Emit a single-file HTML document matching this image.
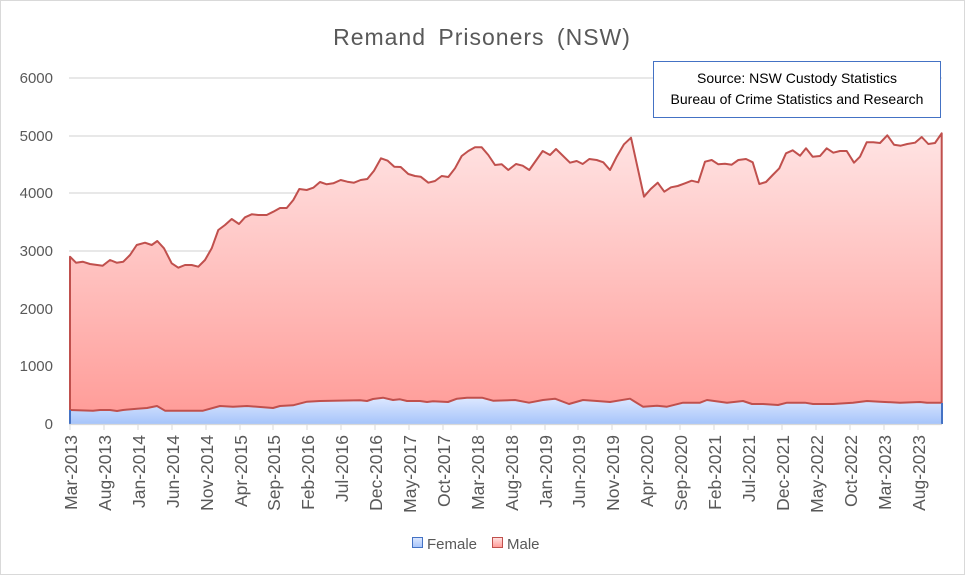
<!DOCTYPE html>
<html><head><meta charset="utf-8"><style>
html,body{margin:0;padding:0;background:#fff;}
svg{display:block;font-family:"Liberation Sans",Arial,sans-serif;}
</style></head><body>
<svg width="965" height="575" viewBox="0 0 965 575" xmlns="http://www.w3.org/2000/svg">
<defs>
<linearGradient id="gm" x1="0" y1="0" x2="0" y2="1" gradientUnits="objectBoundingBox">
<stop offset="0" stop-color="#ffe4e4"/><stop offset="1" stop-color="#ff9a96"/></linearGradient>
<linearGradient id="gf" x1="0" y1="0" x2="0" y2="1">
<stop offset="0" stop-color="#dde8ff"/><stop offset="1" stop-color="#a6c4fa"/></linearGradient>
</defs>
<rect x="0.5" y="0.5" width="964" height="574" fill="#fff" stroke="#d9d9d9"/>
<text x="482" y="45" text-anchor="middle" font-size="23" fill="#595959" word-spacing="5" letter-spacing="1">Remand Prisoners (NSW)</text>
<g stroke="#d9d9d9" stroke-width="1.3">
<line x1="69" y1="78" x2="942" y2="78"/><line x1="69" y1="136" x2="942" y2="136"/>
<line x1="69" y1="193" x2="942" y2="193"/><line x1="69" y1="251" x2="942" y2="251"/>
<line x1="69" y1="309" x2="942" y2="309"/><line x1="69" y1="366" x2="942" y2="366"/>
</g>
<g font-size="15" fill="#595959" text-anchor="end">
<text x="53" y="83">6000</text><text x="53" y="141">5000</text><text x="53" y="198">4000</text>
<text x="53" y="256">3000</text><text x="53" y="314">2000</text><text x="53" y="371">1000</text><text x="53" y="429">0</text>
</g>
<polygon fill="url(#gm)" points="70,424 70,256.7 76,262.7 82.7,261.7 90,264 102.7,265.7 110,260 116.7,262.7 123.3,261.7 130,255 136.7,245 145,242.7 151.7,245 157.3,241 164,248.3 171.7,263.3 178.3,267.7 185,265 191.7,265 198.3,266.7 205,260 211.7,248.3 218.3,230 225,225 231.7,219 239,224 245,217.3 251.7,214.3 258.3,215 266.7,215 273.3,211.7 280,208 286.7,208 293.3,200 299.3,189 306.7,190 313.3,187.7 320,182 326.7,184.3 333.3,183.3 340.7,180 347.3,181.7 354,182.7 360.7,180 367.3,179 374,170.7 381,158.3 387.7,160.7 394.3,166.7 400.7,167 408.3,174 415,176 420.7,176.7 428.3,182.7 435,181 441.7,176 448.3,177 455,168.3 461.7,156 468.3,151 475,147.3 481.7,147.3 488.3,155 495,165 501.7,164.3 508.3,170 516,164 522.7,165.7 529.3,170 542.7,151 550,155 556,149 570,162.7 576.7,161 582.7,164 589.3,159 596.7,160 603.3,162.3 610,170 616.7,156.7 624,144.3 631,137.7 644,196.7 650.7,189 657.7,182.7 664.3,191.7 671,187.3 677.7,186 685,183.3 691.7,180.7 698.3,182.3 705,161.7 711.7,160 718.3,164.3 725,163.7 731.7,164.7 738.3,160 746,159 752.7,162.3 759.3,184 766,182 772.7,175 779.3,168.3 786,153.3 792.7,150.3 800,155.7 806,148.3 812.7,156.7 820,156 826.7,148.3 833.3,152.7 840,151 846.7,151 854,162.7 860,156.7 866.7,142.3 873.3,142.3 880,143 887.3,135.3 894,144.7 900.7,145.7 907.3,144 915,142.7 921.7,137 928.3,144 935,143 941.7,133.3 941.7,424"/>
<polyline fill="none" stroke="#c0504d" stroke-width="2" stroke-linejoin="round" points="70,424 70,256.7 76,262.7 82.7,261.7 90,264 102.7,265.7 110,260 116.7,262.7 123.3,261.7 130,255 136.7,245 145,242.7 151.7,245 157.3,241 164,248.3 171.7,263.3 178.3,267.7 185,265 191.7,265 198.3,266.7 205,260 211.7,248.3 218.3,230 225,225 231.7,219 239,224 245,217.3 251.7,214.3 258.3,215 266.7,215 273.3,211.7 280,208 286.7,208 293.3,200 299.3,189 306.7,190 313.3,187.7 320,182 326.7,184.3 333.3,183.3 340.7,180 347.3,181.7 354,182.7 360.7,180 367.3,179 374,170.7 381,158.3 387.7,160.7 394.3,166.7 400.7,167 408.3,174 415,176 420.7,176.7 428.3,182.7 435,181 441.7,176 448.3,177 455,168.3 461.7,156 468.3,151 475,147.3 481.7,147.3 488.3,155 495,165 501.7,164.3 508.3,170 516,164 522.7,165.7 529.3,170 542.7,151 550,155 556,149 570,162.7 576.7,161 582.7,164 589.3,159 596.7,160 603.3,162.3 610,170 616.7,156.7 624,144.3 631,137.7 644,196.7 650.7,189 657.7,182.7 664.3,191.7 671,187.3 677.7,186 685,183.3 691.7,180.7 698.3,182.3 705,161.7 711.7,160 718.3,164.3 725,163.7 731.7,164.7 738.3,160 746,159 752.7,162.3 759.3,184 766,182 772.7,175 779.3,168.3 786,153.3 792.7,150.3 800,155.7 806,148.3 812.7,156.7 820,156 826.7,148.3 833.3,152.7 840,151 846.7,151 854,162.7 860,156.7 866.7,142.3 873.3,142.3 880,143 887.3,135.3 894,144.7 900.7,145.7 907.3,144 915,142.7 921.7,137 928.3,144 935,143 941.7,133.3 941.7,424"/>
<polygon fill="url(#gf)" points="70,424 70,410 93,410.7 100,410 110,410 117,411 123,410 137,408.7 147,408 157,406 165,410.7 203,410.7 220,406 233,406.7 247,406 273,408 280,406 293,405.3 307,401.7 320,401 360,400.3 367,401 373,399 383,397.7 393,400 400,399.3 407,401 420,401 427,402 433,401.3 448,402 457,398.7 467,397.7 482,397.7 493,400.7 515,400 529,402.7 543,400 555,398.7 569,404 583,400 597,401 610,402 630,398.7 643,406.7 657,405.7 667,406.7 683,402.7 700,402.7 707,400 727,402.7 743,401 752,404 763,404 778,405 787,402.7 805,402.7 813,404 833,404 853,402.7 867,401 880,401.7 900,402.7 920,402 927,402.7 942,402.7 942,424"/>
<polyline fill="none" stroke="#c0504d" stroke-width="2" stroke-linejoin="round" points="70,410 93,410.7 100,410 110,410 117,411 123,410 137,408.7 147,408 157,406 165,410.7 203,410.7 220,406 233,406.7 247,406 273,408 280,406 293,405.3 307,401.7 320,401 360,400.3 367,401 373,399 383,397.7 393,400 400,399.3 407,401 420,401 427,402 433,401.3 448,402 457,398.7 467,397.7 482,397.7 493,400.7 515,400 529,402.7 543,400 555,398.7 569,404 583,400 597,401 610,402 630,398.7 643,406.7 657,405.7 667,406.7 683,402.7 700,402.7 707,400 727,402.7 743,401 752,404 763,404 778,405 787,402.7 805,402.7 813,404 833,404 853,402.7 867,401 880,401.7 900,402.7 920,402 927,402.7 942,402.7"/>
<line x1="70" y1="410" x2="70" y2="424" stroke="#4472c4" stroke-width="2"/>
<line x1="942" y1="403" x2="942" y2="424" stroke="#4472c4" stroke-width="2"/>
<line x1="69" y1="424.5" x2="942" y2="424.5" stroke="#d9d9d9" stroke-width="1.3"/>
<g stroke="#d9d9d9" stroke-width="1">
<line x1="70" y1="424" x2="70" y2="430"/><line x1="104" y1="424" x2="104" y2="430"/><line x1="138" y1="424" x2="138" y2="430"/><line x1="172" y1="424" x2="172" y2="430"/><line x1="206" y1="424" x2="206" y2="430"/><line x1="240" y1="424" x2="240" y2="430"/><line x1="273" y1="424" x2="273" y2="430"/><line x1="307" y1="424" x2="307" y2="430"/><line x1="341" y1="424" x2="341" y2="430"/><line x1="375" y1="424" x2="375" y2="430"/><line x1="409" y1="424" x2="409" y2="430"/><line x1="443" y1="424" x2="443" y2="430"/><line x1="477" y1="424" x2="477" y2="430"/><line x1="511" y1="424" x2="511" y2="430"/><line x1="545" y1="424" x2="545" y2="430"/><line x1="578" y1="424" x2="578" y2="430"/><line x1="612" y1="424" x2="612" y2="430"/><line x1="646" y1="424" x2="646" y2="430"/><line x1="680" y1="424" x2="680" y2="430"/><line x1="714" y1="424" x2="714" y2="430"/><line x1="748" y1="424" x2="748" y2="430"/><line x1="782" y1="424" x2="782" y2="430"/><line x1="816" y1="424" x2="816" y2="430"/><line x1="850" y1="424" x2="850" y2="430"/><line x1="884" y1="424" x2="884" y2="430"/><line x1="918" y1="424" x2="918" y2="430"/>
</g>
<g font-size="17.5" fill="#595959" text-anchor="end">
<text transform="translate(77,435) rotate(-90)">Mar-2013</text>
<text transform="translate(111,435) rotate(-90)">Aug-2013</text>
<text transform="translate(145,435) rotate(-90)">Jan-2014</text>
<text transform="translate(179,435) rotate(-90)">Jun-2014</text>
<text transform="translate(213,435) rotate(-90)">Nov-2014</text>
<text transform="translate(247,435) rotate(-90)">Apr-2015</text>
<text transform="translate(280,435) rotate(-90)">Sep-2015</text>
<text transform="translate(314,435) rotate(-90)">Feb-2016</text>
<text transform="translate(348,435) rotate(-90)">Jul-2016</text>
<text transform="translate(382,435) rotate(-90)">Dec-2016</text>
<text transform="translate(416,435) rotate(-90)">May-2017</text>
<text transform="translate(450,435) rotate(-90)">Oct-2017</text>
<text transform="translate(484,435) rotate(-90)">Mar-2018</text>
<text transform="translate(518,435) rotate(-90)">Aug-2018</text>
<text transform="translate(552,435) rotate(-90)">Jan-2019</text>
<text transform="translate(585,435) rotate(-90)">Jun-2019</text>
<text transform="translate(619,435) rotate(-90)">Nov-2019</text>
<text transform="translate(653,435) rotate(-90)">Apr-2020</text>
<text transform="translate(687,435) rotate(-90)">Sep-2020</text>
<text transform="translate(721,435) rotate(-90)">Feb-2021</text>
<text transform="translate(755,435) rotate(-90)">Jul-2021</text>
<text transform="translate(789,435) rotate(-90)">Dec-2021</text>
<text transform="translate(823,435) rotate(-90)">May-2022</text>
<text transform="translate(857,435) rotate(-90)">Oct-2022</text>
<text transform="translate(891,435) rotate(-90)">Mar-2023</text>
<text transform="translate(925,435) rotate(-90)">Aug-2023</text>
</g>
<rect x="653.5" y="61.5" width="287" height="56" fill="#fff" stroke="#4472c4"/>
<g font-size="14" fill="#000" text-anchor="middle">
<text x="797" y="83">Source: NSW Custody Statistics</text>
<text x="797" y="104">Bureau of Crime Statistics and Research</text>
</g>
<rect x="412.5" y="537.5" width="10" height="10" fill="url(#gf)" stroke="#4472c4"/>
<text x="427" y="549" font-size="15" fill="#595959">Female</text>
<rect x="492.5" y="537.5" width="10" height="10" fill="url(#gm)" stroke="#c0504d"/>
<text x="507" y="549" font-size="15" fill="#595959">Male</text>
</svg>
</body></html>
